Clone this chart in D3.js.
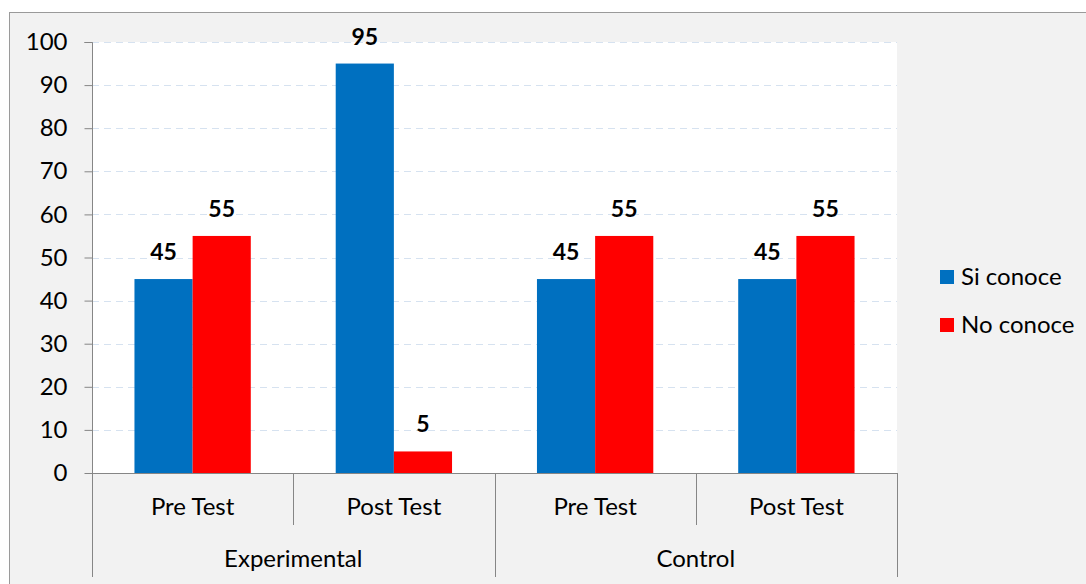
<!DOCTYPE html>
<html>
<head>
<meta charset="utf-8">
<script src="https://cdn.jsdelivr.net/npm/d3@7"></script>
<style>
	body { margin: 0; background: #ffffff; }
	text { font-family: Lato, "Open Sans", sans-serif; fill: #000; }
</style>
</head>
<body>
<div id="chart"></div>
<script>
var groups = ["Experimental", "Control"];
var tests = ["Pre Test", "Post Test"];
var categories = ["Experimental|Pre Test", "Experimental|Post Test", "Control|Pre Test", "Control|Post Test"];
var seriesNames = ["Si conoce", "No conoce"];
var siConoce = [45, 95, 45, 45];
var noConoce = [55, 5, 55, 55];
var yTicks = [0, 10, 20, 30, 40, 50, 60, 70, 80, 90, 100];
var colors = ["#0070c0", "#ff0000"];

var W = 1086, H = 584;
var margin = { top: 42, left: 92, right: 189, bottom: 111 },
	width = W - margin.left - margin.right,
	height = H - margin.top - margin.bottom;

var svg = d3.select("#chart")
	.append("svg")
	.attr("width", W)
	.attr("height", H);

// chart background + border
svg.append("rect")
	.attr("x", 9.5).attr("y", 12.5)
	.attr("width", W).attr("height", H)
	.attr("fill", "#f2f2f2")
	.attr("stroke", "#9a9a9a");

var g = svg.append("g")
	.attr("transform", "translate(" + margin.left + "," + margin.top + ")");

// plot area
g.append("rect")
	.attr("width", width).attr("height", height)
	.attr("fill", "#ffffff");

var x0 = d3.scaleBand().domain(categories).range([0, width]).paddingInner(0).paddingOuter(0);
var x1 = d3.scaleBand().domain(seriesNames).range([0, x0.bandwidth()]).paddingInner(0).paddingOuter(0.73);
var y = d3.scaleLinear().domain([0, 100]).range([height, 0]);

// gridlines
g.append("g")
	.selectAll("line")
	.data(yTicks.filter(function(d) { return d > 0; }))
	.enter()
	.append("line")
	.attr("x1", 0).attr("x2", width)
	.attr("y1", function(d) { return Math.round(y(d)) + 0.5; })
	.attr("y2", function(d) { return Math.round(y(d)) + 0.5; })
	.attr("stroke", "#d6e2f0")
	.attr("stroke-width", 1)
	.attr("stroke-dasharray", "7,5");

// y axis
var yAxis = g.append("g")
	.attr("transform", "translate(0.5,0)")
	.call(d3.axisLeft(y).tickValues(yTicks).tickSize(8).tickPadding(17));
yAxis.selectAll("line, path").attr("stroke", "#868686");
yAxis.select(".domain").attr("d", "M-8,0.5H0V" + (height + 0.5));
yAxis.selectAll("text")
	.style("font-family", "Lato, sans-serif")
	.style("font-size", "24px")
	.attr("fill", "#000");

// bars
var data = categories.map(function(c, i) {
	return { cat: c, values: [
		{ name: seriesNames[0], value: siConoce[i] },
		{ name: seriesNames[1], value: noConoce[i] }
	] };
});

var catG = g.selectAll(".cat")
	.data(data)
	.enter()
	.append("g")
	.attr("transform", function(d) { return "translate(" + x0(d.cat) + ",0)"; });

catG.selectAll("rect")
	.data(function(d) { return d.values; })
	.enter()
	.append("rect")
	.attr("x", function(d) { return x1(d.name); })
	.attr("y", function(d) { return y(d.value); })
	.attr("width", x1.bandwidth())
	.attr("height", function(d) { return height - y(d.value); })
	.attr("fill", function(d, i) { return colors[i]; });

catG.selectAll(".lbl")
	.data(function(d) { return d.values; })
	.enter()
	.append("text")
	.attr("class", "lbl")
	.attr("x", function(d) { return x1(d.name) + x1.bandwidth() / 2; })
	.attr("y", function(d) { return y(d.value) - 19; })
	.attr("text-anchor", "middle")
	.style("font-size", "23px")
	.style("font-weight", "bold")
	.text(function(d) { return d.value; });

// x axis (multi-level)
var axisG = g.append("g").attr("transform", "translate(0," + height + ")");
axisG.append("line")
	.attr("x1", 0).attr("x2", width)
	.attr("y1", 0.5).attr("y2", 0.5)
	.attr("stroke", "#868686");

var bw = x0.bandwidth();
categories.forEach(function(c, i) {
	var xs = Math.round(x0(c)) + 0.5;
	var isGroupEdge = i % tests.length === 0;
	axisG.append("line")
		.attr("x1", xs).attr("x2", xs)
		.attr("y1", 0).attr("y2", isGroupEdge ? 104 : 52)
		.attr("stroke", "#868686");
	axisG.append("text")
		.attr("x", x0(c) + bw / 2)
		.attr("y", 42)
		.attr("text-anchor", "middle")
		.style("font-size", "24px")
		.text(c.split("|")[1]);
});
axisG.append("line")
	.attr("x1", width + 0.5).attr("x2", width + 0.5)
	.attr("y1", 0).attr("y2", 104)
	.attr("stroke", "#868686");

groups.forEach(function(gname, j) {
	axisG.append("text")
		.attr("x", (j + 0.5) * bw * tests.length)
		.attr("y", 94)
		.attr("text-anchor", "middle")
		.style("font-size", "24px")
		.text(gname);
});

// legend
var legend = svg.append("g").attr("transform", "translate(940,270)");
seriesNames.forEach(function(s, i) {
	var row = legend.append("g").attr("transform", "translate(0," + i * 48 + ")");
	row.append("rect")
		.attr("width", 14).attr("height", 14)
		.attr("fill", colors[i]);
	row.append("text")
		.attr("x", 21).attr("y", 7)
		.attr("dy", "0.35em")
		.style("font-size", "24px")
		.text(s);
});
</script>
</body>
</html>
